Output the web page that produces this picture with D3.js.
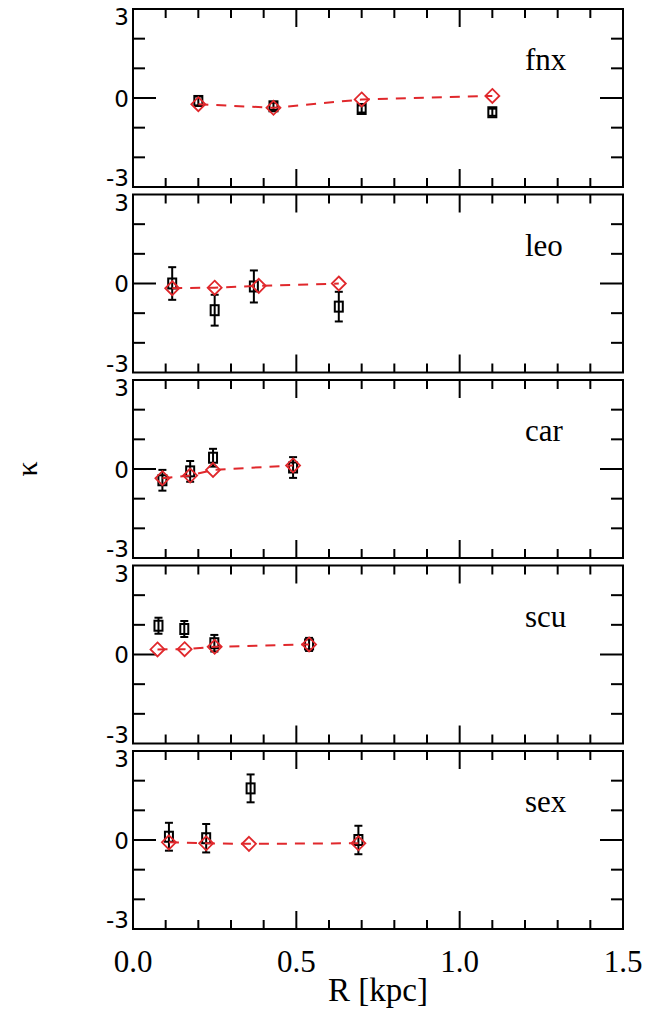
<!DOCTYPE html>
<html>
<head>
<meta charset="utf-8">
<script src="https://cdn.jsdelivr.net/npm/d3@7"></script>
<style>
  html, body { margin: 0; padding: 0; background: #fff; }
  svg { display: block; }
</style>
</head>
<body>
<svg id="chart" width="656" height="1014"></svg>
<script>
// Kurtosis profiles of five dwarf spheroidals
const galaxies = ["fnx", "leo", "car", "scu", "sex"];

// Observed binned kurtosis (black squares with error bars)
const obsR   = [[0.20, 0.43, 0.70, 1.10],
                [0.12, 0.25, 0.37, 0.63],
                [0.09, 0.175, 0.245, 0.49],
                [0.078, 0.157, 0.249, 0.539],
                [0.11, 0.224, 0.36, 0.69]];
const obsK   = [[-0.10, -0.28, -0.37, -0.48],
                [0.00, -0.90, -0.10, -0.78],
                [-0.38, -0.08, 0.38, 0.05],
                [0.97, 0.86, 0.38, 0.34],
                [0.11, 0.06, 1.74, 0.00]];
const obsErr = [[0.15, 0.12, 0.12, 0.12],
                [0.55, 0.52, 0.54, 0.50],
                [0.35, 0.35, 0.30, 0.35],
                [0.27, 0.27, 0.28, 0.22],
                [0.47, 0.48, 0.47, 0.48]];

// Model kurtosis (red diamonds joined by a dashed line)
const modelR = [[0.20, 0.43, 0.70, 1.10],
                [0.12, 0.25, 0.385, 0.63],
                [0.09, 0.175, 0.245, 0.49],
                [0.075, 0.158, 0.25, 0.539],
                [0.11, 0.224, 0.355, 0.69]];
const modelK = [[-0.21, -0.33, -0.05, 0.07],
                [-0.16, -0.14, -0.08, 0.00],
                [-0.31, -0.22, -0.03, 0.12],
                [0.17, 0.18, 0.26, 0.34],
                [-0.08, -0.11, -0.13, -0.11]];

const xTickLabels = ["0.0", "0.5", "1.0", "1.5"];
const yTickLabels = ["-3", "0", "3"];
const xLabel = "R [kpc]";
const yLabel = "κ";

const svg = d3.select("#chart");
const left = 133, right = 623, top0 = 9, panelH = 178, step = 185.5;
const red = "#e0282c";
const serif = "Liberation Serif, 'DejaVu Serif', serif";

const x = d3.scaleLinear().domain([0, 1.5]).range([left, right]);

galaxies.forEach((name, i) => {
  const pt = top0 + i * step;
  const y = d3.scaleLinear().domain([-3, 3]).range([pt + panelH, pt]);
  const g = svg.append("g");

  // ticks on all four sides: every 0.1 in R (long at 0.5, 1.0), every 1 in kappa (long at 0)
  const xMinor = d3.range(1, 15).map(d => d / 10);
  const xMajor = [0.5, 1.0];
  xMinor.forEach(v => {
    const len = xMajor.some(m => Math.abs(m - v) < 1e-9) ? 18 : 9;
    g.append("line").attr("x1", x(v)).attr("x2", x(v))
      .attr("y1", pt).attr("y2", pt + len)
      .attr("stroke", "#000").attr("stroke-width", 2);
    g.append("line").attr("x1", x(v)).attr("x2", x(v))
      .attr("y1", pt + panelH).attr("y2", pt + panelH - len)
      .attr("stroke", "#000").attr("stroke-width", 2);
  });
  [-2, -1, 0, 1, 2].forEach(v => {
    const len = v === 0 ? 23 : 12;
    g.append("line").attr("x1", left).attr("x2", left + len)
      .attr("y1", y(v)).attr("y2", y(v))
      .attr("stroke", "#000").attr("stroke-width", 2);
    g.append("line").attr("x1", right).attr("x2", right - len)
      .attr("y1", y(v)).attr("y2", y(v))
      .attr("stroke", "#000").attr("stroke-width", 2);
  });

  // frame
  g.append("rect").attr("x", left).attr("y", pt)
    .attr("width", right - left).attr("height", panelH)
    .attr("fill", "none").attr("stroke", "#000").attr("stroke-width", 2);

  // kappa tick labels: "3" hangs from the top edge, "-3" sits on the bottom edge
  [-3, 0, 3].forEach((v, j) => {
    const base = v === 3 ? y(v) + 16 : (v === -3 ? y(v) - 1 : y(v) + 8.5);
    g.append("text").attr("x", left - 4).attr("y", base)
      .attr("text-anchor", "end")
      .attr("font-family", "'DejaVu Sans', sans-serif")
      .attr("font-size", 23)
      .text(yTickLabels[j]);
  });

  // panel label
  g.append("text").attr("x", 525).attr("y", pt + 61)
    .attr("font-family", serif)
    .attr("font-size", 31)
    .text(name);

  // observed: error bars and squares
  const obs = obsR[i].map((r, k) => ({ r, k: obsK[i][k], e: obsErr[i][k] }));
  const eb = g.append("g").attr("stroke", "#000").attr("stroke-width", 2);
  obs.forEach(d => {
    const cx = x(d.r);
    eb.append("line").attr("x1", cx).attr("x2", cx)
      .attr("y1", y(d.k + d.e)).attr("y2", y(d.k - d.e));
    [d.k + d.e, d.k - d.e].forEach(v => {
      eb.append("line").attr("x1", cx - 4).attr("x2", cx + 4)
        .attr("y1", y(v)).attr("y2", y(v));
    });
  });
  g.append("g").selectAll("rect").data(obs).join("rect")
    .attr("x", d => x(d.r) - 4).attr("y", d => y(d.k) - 5)
    .attr("width", 8).attr("height", 10)
    .attr("fill", "none")
    .attr("stroke", "#000").attr("stroke-width", 2);

  // model: dashed line and diamonds
  const mod = modelR[i].map((r, k) => ({ r, k: modelK[i][k] }));
  g.append("path").datum(mod)
    .attr("d", d3.line().x(d => x(d.r)).y(d => y(d.k)))
    .attr("fill", "none").attr("stroke", red)
    .attr("stroke-width", 2).attr("stroke-dasharray", "10,8");
  g.append("g").selectAll("path").data(mod).join("path")
    .attr("transform", d => `translate(${x(d.r)},${y(d.k)})`)
    .attr("d", "M0,-7 L7,0 L0,7 L-7,0 Z")
    .attr("fill", "none").attr("stroke", red).attr("stroke-width", 1.8);
});

// bottom axis tick labels
const bottom = top0 + 4 * step + panelH;
[0, 0.5, 1.0, 1.5].forEach((v, j) => {
  svg.append("text").attr("x", x(v)).attr("y", bottom + 43)
    .attr("text-anchor", "middle")
    .attr("font-family", serif)
    .attr("font-size", 31)
    .text(xTickLabels[j]);
});

// axis titles
svg.append("text").attr("x", (left + right) / 2).attr("y", bottom + 72)
  .attr("text-anchor", "middle")
  .attr("font-family", serif)
  .attr("font-size", 33)
  .text(xLabel);

svg.append("text")
  .attr("transform", `translate(37, ${(top0 + bottom) / 2}) rotate(-90)`)
  .attr("text-anchor", "middle")
  .attr("font-family", serif)
  .attr("font-size", 30)
  .text(yLabel);
</script>
</body>
</html>
